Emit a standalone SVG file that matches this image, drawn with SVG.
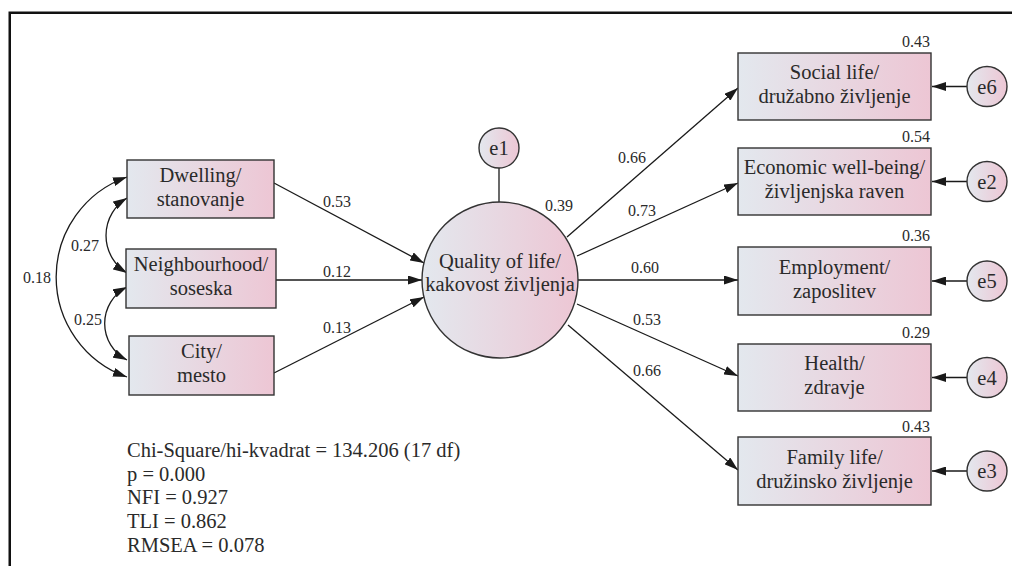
<svg xmlns="http://www.w3.org/2000/svg" width="1012" height="566" viewBox="0 0 1012 566">
<defs>
<linearGradient id="g" x1="0" y1="0" x2="1" y2="0">
<stop offset="0" stop-color="#e3e8ee"/>
<stop offset="1" stop-color="#edc6d4"/>
</linearGradient>
<marker id="ah" viewBox="0 0 14 9" refX="14" refY="4.5" markerWidth="14" markerHeight="9" markerUnits="userSpaceOnUse" orient="auto-start-reverse">
<path d="M0,0 L14,4.5 L0,9 z" fill="#1a1a1a"/>
</marker>
</defs>
<style>
.box{fill:url(#g);stroke:#333;stroke-width:1.4}
.t{font-family:"Liberation Serif","Times New Roman",serif;font-size:20.5px;fill:#2a2a2a;text-anchor:middle}
.s{font-family:"Liberation Serif","Times New Roman",serif;font-size:16px;fill:#2a2a2a;text-anchor:middle}
.r{font-family:"Liberation Serif","Times New Roman",serif;font-size:16px;fill:#2a2a2a;text-anchor:end}
.st{font-family:"Liberation Serif","Times New Roman",serif;font-size:20.5px;fill:#2a2a2a}
.c{fill:none;stroke:#1a1a1a;stroke-width:1.3}
.a{fill:none;stroke:#1a1a1a;stroke-width:1.3;marker-end:url(#ah)}
.d{fill:none;stroke:#1a1a1a;stroke-width:1.3;marker-start:url(#ah);marker-end:url(#ah)}
</style>
<rect width="1012" height="566" fill="#fff"/>
<path d="M9.75,566 V12.75 H1012" fill="none" stroke="#111" stroke-width="2.5"/>

<g id="connectors">
<line class="a" x1="274" y1="183" x2="424" y2="263"/>
<line class="a" x1="276" y1="280" x2="422" y2="280"/>
<line class="a" x1="274" y1="373" x2="424" y2="297"/>
<line class="a" x1="567" y1="237" x2="738" y2="88"/>
<line class="a" x1="577" y1="256" x2="738" y2="183"/>
<line class="a" x1="578" y1="280" x2="738" y2="280"/>
<line class="a" x1="577" y1="304" x2="738" y2="376"/>
<line class="a" x1="568" y1="325" x2="738" y2="470"/>
<line class="c" x1="499" y1="168" x2="499" y2="202"/>
<line class="a" x1="967" y1="86.5" x2="932" y2="86.5"/>
<line class="a" x1="967" y1="181.5" x2="932" y2="181.5"/>
<line class="a" x1="967" y1="281" x2="932" y2="281"/>
<line class="a" x1="967" y1="377.5" x2="932" y2="377.5"/>
<line class="a" x1="967" y1="471" x2="932" y2="471"/>
<path class="d" d="M127,198 A44,44 0 0,0 127,273"/>
<path class="d" d="M127,287 A41,41 0 0,0 127,360"/>
<path class="d" d="M127,177 A106,106 0 0,0 127,377"/>
<text class="s" x="337" y="207">0.53</text>
<text class="s" x="337" y="277">0.12</text>
<text class="s" x="337" y="333">0.13</text>
<text class="s" x="85" y="251">0.27</text>
<text class="s" x="88" y="325">0.25</text>
<text class="s" x="37" y="283">0.18</text>
<text class="s" x="632" y="163">0.66</text>
<text class="s" x="559" y="211">0.39</text>
<text class="s" x="642" y="216">0.73</text>
<text class="s" x="645" y="273">0.60</text>
<text class="s" x="647" y="325">0.53</text>
<text class="s" x="647" y="376">0.66</text>
</g>

<g id="dwelling">
<rect class="box" x="127" y="160" width="147" height="58"/>
<text class="t" x="200.5" y="181.5">Dwelling/</text>
<text class="t" x="200.5" y="205.5">stanovanje</text>
</g>
<g id="neighbourhood">
<rect class="box" x="126" y="249" width="150" height="59"/>
<text class="t" x="201" y="271">Neighbourhood/</text>
<text class="t" x="201" y="295">soseska</text>
</g>
<g id="city">
<rect class="box" x="129" y="336" width="145" height="59"/>
<text class="t" x="201.5" y="358">City/</text>
<text class="t" x="201.5" y="382">mesto</text>
</g>

<g id="quality">
<circle class="box" cx="500" cy="280" r="78"/>
<text class="t" x="500" y="268">Quality of life/</text>
<text class="t" x="500" y="291">kakovost življenja</text>
</g>
<g id="e1">
<circle class="box" cx="499" cy="148" r="20"/>
<text class="t" x="499" y="155">e1</text>
</g>

<g id="social">
<rect class="box" x="738" y="53" width="193" height="67"/>
<text class="t" x="834.5" y="79">Social life/</text>
<text class="t" x="834.5" y="103">družabno življenje</text>
<text class="r" x="930" y="47">0.43</text>
</g>
<g id="economic">
<rect class="box" x="738" y="148" width="193" height="67"/>
<text class="t" x="834.5" y="174">Economic well-being/</text>
<text class="t" x="834.5" y="198">življenjska raven</text>
<text class="r" x="930" y="142">0.54</text>
</g>
<g id="employment">
<rect class="box" x="738" y="247" width="193" height="68"/>
<text class="t" x="834.5" y="273.5">Employment/</text>
<text class="t" x="834.5" y="297.5">zaposlitev</text>
<text class="r" x="930" y="241">0.36</text>
</g>
<g id="health">
<rect class="box" x="738" y="344" width="193" height="67"/>
<text class="t" x="834.5" y="370">Health/</text>
<text class="t" x="834.5" y="394">zdravje</text>
<text class="r" x="930" y="338">0.29</text>
</g>
<g id="family">
<rect class="box" x="738" y="437" width="193" height="68"/>
<text class="t" x="834.5" y="463.5">Family life/</text>
<text class="t" x="834.5" y="487.5">družinsko življenje</text>
<text class="r" x="930" y="432">0.43</text>
</g>

<g id="e6"><circle class="box" cx="987" cy="86.5" r="20"/><text class="t" x="987" y="93.5">e6</text></g>
<g id="e2"><circle class="box" cx="987" cy="181.5" r="20"/><text class="t" x="987" y="188.5">e2</text></g>
<g id="e5"><circle class="box" cx="987" cy="281" r="20"/><text class="t" x="987" y="288">e5</text></g>
<g id="e4"><circle class="box" cx="987" cy="377.5" r="20"/><text class="t" x="987" y="384.5">e4</text></g>
<g id="e3"><circle class="box" cx="987" cy="471" r="20"/><text class="t" x="987" y="478">e3</text></g>

<g id="stats">
<text class="st" x="127" y="457">Chi-Square/hi-kvadrat = 134.206 (17 df)</text>
<text class="st" x="127" y="481">p = 0.000</text>
<text class="st" x="127" y="504">NFI = 0.927</text>
<text class="st" x="127" y="528">TLI = 0.862</text>
<text class="st" x="127" y="552">RMSEA = 0.078</text>
</g>
</svg>
